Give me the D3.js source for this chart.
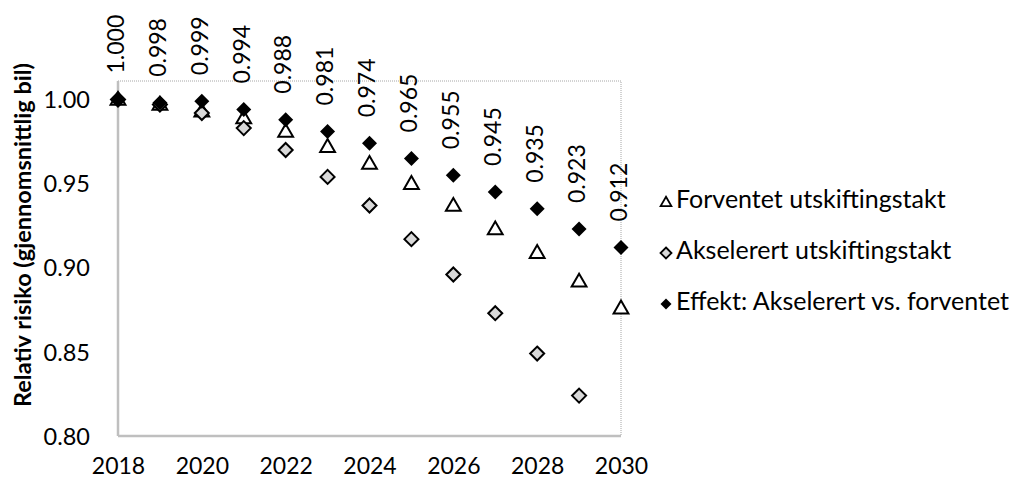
<!DOCTYPE html>
<html>
<head>
<meta charset="utf-8">
<script src="https://cdn.jsdelivr.net/npm/d3@7"></script>
<style>
  body { margin: 0; background: #fff; }
  text { font-family: Lato, "Noto Sans", sans-serif; fill: #000; }
</style>
</head>
<body>
<svg id="chart"></svg>
<script>
const width = 1025;
const height = 479;

// Data
const years = [2018, 2019, 2020, 2021, 2022, 2023, 2024, 2025, 2026, 2027, 2028, 2029, 2030];
const forventet = [1.000, 0.997, 0.993, 0.989, 0.981, 0.972, 0.962, 0.950, 0.937, 0.923, 0.909, 0.892, 0.876];
const akselerert = [1.000, 0.997, 0.992, 0.983, 0.970, 0.954, 0.937, 0.917, 0.896, 0.873, 0.849, 0.824, 0.799];
const effekt = [1.000, 0.998, 0.999, 0.994, 0.988, 0.981, 0.974, 0.965, 0.955, 0.945, 0.935, 0.923, 0.912];
const xTicks = [2018, 2020, 2022, 2024, 2026, 2028, 2030];
const yTicks = [0.80, 0.85, 0.90, 0.95, 1.00];
const seriesNames = ["Forventet utskiftingstakt", "Akselerert utskiftingstakt", "Effekt: Akselerert vs. forventet"];

const svg = d3.select("#chart")
    .attr("width", width)
    .attr("height", height);

const plot = { left: 118, right: 621, top: 81, bottom: 436 };

const x = d3.scaleLinear().domain([2018, 2030]).range([plot.left, plot.right]);
const y = d3.scaleLinear().domain([0.80, 1.011]).range([plot.bottom, plot.top]);

// Plot area border: dotted top/right, solid grey left/bottom
svg.append("path")
    .attr("d", `M${plot.left},${plot.top}H${plot.right}V${plot.bottom}`)
    .attr("fill", "none")
    .attr("stroke", "#a6a6a6")
    .attr("stroke-width", 1)
    .attr("stroke-dasharray", "1,1");

// Y axis
const yAxis = svg.append("g")
    .attr("transform", `translate(${plot.left},0)`)
    .call(d3.axisLeft(y).tickValues(yTicks).tickSize(0).tickPadding(28).tickFormat(d3.format(".2f")));
yAxis.select(".domain").attr("stroke", "#bfbfbf").attr("stroke-width", 2.5)
    .attr("d", `M0,${plot.top}V${plot.bottom}`);
yAxis.selectAll("text").style("font-size", "23.5px").attr("dy", "0.35em");

// X axis
const xAxis = svg.append("g")
    .attr("transform", `translate(0,${plot.bottom})`)
    .call(d3.axisBottom(x).tickValues(xTicks).tickSize(0).tickPadding(22).tickFormat(d3.format("d")));
xAxis.select(".domain").attr("stroke", "#bfbfbf").attr("stroke-width", 2.5)
    .attr("d", `M${plot.left},0H${plot.right}`);
xAxis.selectAll("text").style("font-size", "23px");

// Y axis title
svg.append("text")
    .attr("transform", `translate(25,235) rotate(-90)`)
    .attr("text-anchor", "middle")
    .attr("dominant-baseline", "middle")
    .style("font-size", "23.5px")
    .style("font-weight", "bold")
    .text("Relativ risiko (gjennomsnittlig bil)");

// Marker shapes
const triangle = d3.symbol().type(d3.symbolTriangle).size(95);
const diamond = (s) => `M0,${-s}L${s},0L0,${s}L${-s},0Z`;

const inRange = (v) => v >= y.domain()[0];

// Forventet: open triangles
svg.append("g").selectAll("path")
    .data(years.map((yr, i) => ({ yr, v: forventet[i] })).filter(d => inRange(d.v)))
    .enter().append("path")
    .attr("d", triangle)
    .attr("transform", d => `translate(${x(d.yr)},${y(d.v) + 1})`)
    .attr("fill", "#fff")
    .attr("stroke", "#000")
    .attr("stroke-width", 2);

// Akselerert: grey diamonds
svg.append("g").selectAll("path")
    .data(years.map((yr, i) => ({ yr, v: akselerert[i] })).filter(d => inRange(d.v)))
    .enter().append("path")
    .attr("d", diamond(7))
    .attr("transform", d => `translate(${x(d.yr)},${y(d.v)})`)
    .attr("fill", "#d9d9d9")
    .attr("stroke", "#000")
    .attr("stroke-width", 2);

// Effekt: black diamonds with value labels
const eff = years.map((yr, i) => ({ yr, v: effekt[i] }));
svg.append("g").selectAll("path")
    .data(eff)
    .enter().append("path")
    .attr("d", diamond(7.5))
    .attr("transform", d => `translate(${x(d.yr)},${y(d.v)})`)
    .attr("fill", "#000");

svg.append("g").selectAll("text")
    .data(eff)
    .enter().append("text")
    .attr("transform", d => `translate(${x(d.yr)},${y(d.v) - 26}) rotate(-90)`)
    .attr("dominant-baseline", "middle")
    .style("font-size", "23px")
    .text(d => d3.format(".3f")(d.v));

// Legend
const legend = svg.append("g").attr("transform", "translate(666,0)");
const rows = [202, 253, 304];

legend.append("path")
    .attr("d", d3.symbol().type(d3.symbolTriangle).size(50))
    .attr("transform", `translate(0,${rows[0] + 1})`)
    .attr("fill", "#fff").attr("stroke", "#000").attr("stroke-width", 1.8);
legend.append("path")
    .attr("d", diamond(5.5))
    .attr("transform", `translate(0,${rows[1]})`)
    .attr("fill", "#d9d9d9").attr("stroke", "#000").attr("stroke-width", 1.8);
legend.append("path")
    .attr("d", diamond(5.5))
    .attr("transform", `translate(0,${rows[2]})`)
    .attr("fill", "#000");

legend.selectAll("text")
    .data(seriesNames)
    .enter().append("text")
    .attr("x", 10)
    .attr("y", (d, i) => rows[i])
    .attr("dominant-baseline", "middle")
    .style("font-size", "25px")
    .text(d => d);
</script>
</body>
</html>
